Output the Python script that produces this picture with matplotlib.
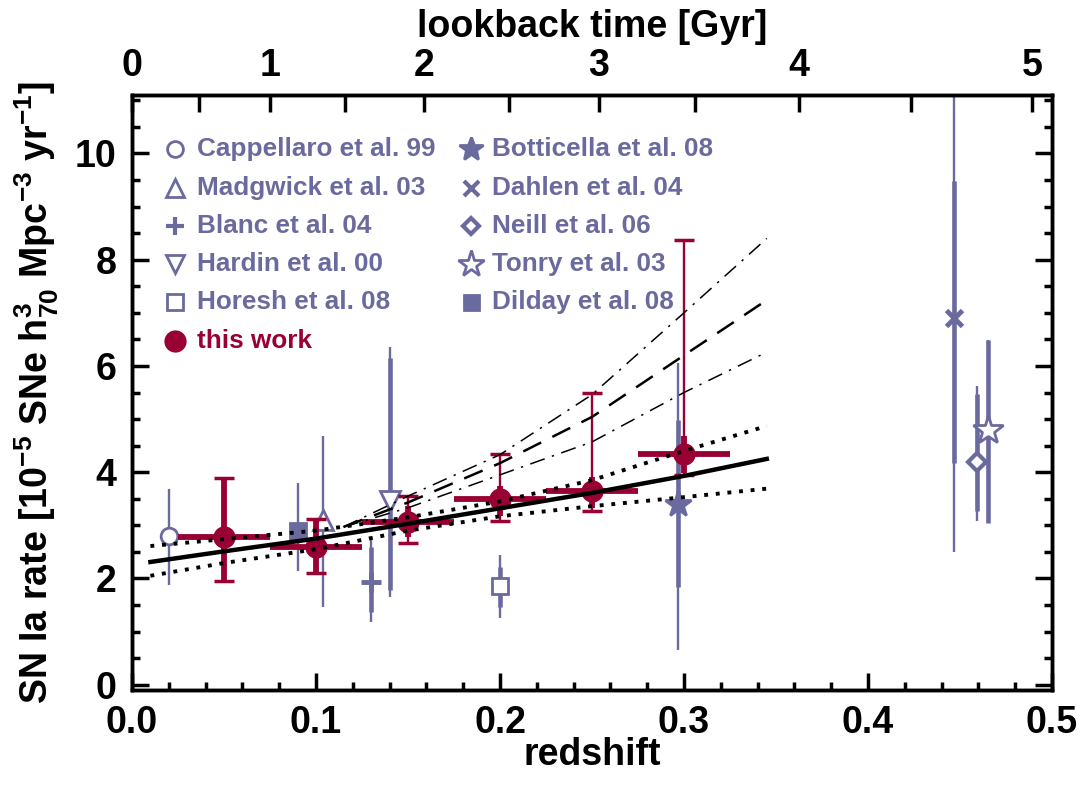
import numpy as np
import matplotlib
matplotlib.use("Agg")
import matplotlib.pyplot as plt

plt.rcParams['font.family'] = ['Liberation Sans', 'DejaVu Sans']
plt.rcParams['font.weight'] = 'bold'
plt.rcParams['axes.labelweight'] = 'bold'
plt.rcParams['mathtext.fontset'] = 'custom'
plt.rcParams['mathtext.rm'] = 'Liberation Sans:bold'
plt.rcParams['mathtext.bf'] = 'Liberation Sans:bold'
plt.rcParams['mathtext.default'] = 'bf'

RED = '#990033'
BLUE = '#6a6a9e'

# this work (SDSS-II)
z_this = [0.05, 0.10, 0.15, 0.20, 0.25, 0.30]
rate_this = [2.78, 2.59, 3.07, 3.49, 3.65, 4.34]
dz_this = [0.025, 0.025, 0.025, 0.025, 0.025, 0.025]
stat_lo_this = [0.83, 0.48, 0.29, 0.32, 0.32, 0.35]
stat_hi_this = [1.12, 0.52, 0.29, 0.25, 0.26, 0.34]
tot_lo_this = [0.83, 0.48, 0.40, 0.40, 0.38, 0.40]
tot_hi_this = [1.12, 0.52, 0.48, 0.86, 1.84, 4.03]

# other measurements
ref_names = ["Cappellaro et al. 99", "Madgwick et al. 03", "Blanc et al. 04",
             "Hardin et al. 00", "Horesh et al. 08", "Botticella et al. 08",
             "Dahlen et al. 04", "Neill et al. 06", "Tonry et al. 03",
             "Dilday et al. 08"]
ref_z = [0.02, 0.104, 0.13, 0.14, 0.20, 0.297, 0.447, 0.459, 0.465, 0.09]
ref_rate = [2.8, 3.1, 1.93, 3.45, 1.85, 3.4, 6.9, 4.2, 4.8, 2.9]
ref_stat_lo = [0.0, 0.0, 0.56, 1.67, 0.39, 1.56, 2.73, 0.93, 1.75, 0.0]
ref_stat_hi = [0.0, 0.0, 0.66, 2.70, 0.37, 1.58, 2.58, 1.27, 1.69, 0.0]
ref_tot_lo = [0.92, 1.64, 0.75, 1.80, 0.59, 2.75, 4.40, 1.11, 1.75, 0.76]
ref_tot_hi = [0.88, 1.58, 0.85, 2.91, 0.59, 2.65, 4.40, 1.42, 1.69, 0.90]
ref_marker = ['o', '^', '+', 'v', 's', '*', 'x', 'D', '*', 's']
ref_filled = [False, False, True, False, False, True, True, False, False, True]
ref_ms = [12, 14, 14, 14, 12, 20, 12, 9, 22, 12]

# power-law fit and its 1-sigma band
z_fit = [0.01, 0.05, 0.10, 0.15, 0.20, 0.25, 0.30, 0.345]
rate_fit = [2.31, 2.51, 2.75, 3.03, 3.32, 3.61, 3.93, 4.25]
rate_fit_hi = [2.61, 2.74, 2.90, 3.15, 3.45, 3.85, 4.40, 4.87]
rate_fit_lo = [2.05, 2.29, 2.55, 2.90, 3.17, 3.36, 3.53, 3.69]

# star-formation based model curves
z_model = [0.115, 0.15, 0.20, 0.25, 0.30, 0.345]
rate_model_hi = [2.97, 3.55, 4.33, 5.46, 7.00, 8.40]
rate_model_mid = [2.97, 3.43, 4.17, 5.04, 6.20, 7.24]
rate_model_lo = [2.97, 3.33, 3.95, 4.57, 5.50, 6.26]

lookback_ticks = np.arange(0, 5.01, 0.5)

# cosmology for the lookback-time axis
H0, Om = 69.5, 0.3
zg = np.linspace(0, 0.6, 2001)
integrand = 1.0 / ((1 + zg) * np.sqrt(Om * (1 + zg) ** 3 + 1 - Om))
tg = 977.8 / H0 * np.concatenate([[0], np.cumsum(0.5 * (integrand[1:] + integrand[:-1]) * np.diff(zg))])

fig = plt.figure(figsize=(10.83, 7.87), dpi=100)
ax = fig.add_axes([132 / 1083, 97 / 787, 920 / 1083, 595 / 787])

# other measurements
for i in range(len(ref_z)):
    ax.errorbar(ref_z[i], ref_rate[i], yerr=[[ref_tot_lo[i]], [ref_tot_hi[i]]],
                fmt='none', ecolor=BLUE, elinewidth=1.7, zorder=2)
    if ref_stat_hi[i] > 0:
        ax.errorbar(ref_z[i], ref_rate[i], yerr=[[ref_stat_lo[i]], [ref_stat_hi[i]]],
                    fmt='none', ecolor=BLUE, elinewidth=3.3, zorder=2)
    fc = BLUE if ref_filled[i] else 'white'
    mew = 3.5 if ref_marker[i] in ['+', 'x'] else 2
    if ref_marker[i] == 'D':
        mew = 3
    ax.plot(ref_z[i], ref_rate[i], marker=ref_marker[i], ms=ref_ms[i], mfc=fc,
            mec=BLUE, mew=mew, ls='none', zorder=3)

# this work
ax.errorbar(z_this, rate_this, yerr=[tot_lo_this, tot_hi_this], fmt='none',
            ecolor=RED, elinewidth=1.7, capsize=7, capthick=2.5, zorder=3)
ax.errorbar(z_this, rate_this, yerr=[stat_lo_this, stat_hi_this], xerr=dz_this,
            fmt='o', color=RED, ms=15, elinewidth=4.2, zorder=4)

# fit curves
ax.plot(z_fit, rate_fit, color='black', lw=3.2, zorder=6)
ax.plot(z_fit, rate_fit_hi, color='black', lw=2.8, ls=(0, (1, 2)), zorder=6)
ax.plot(z_fit, rate_fit_lo, color='black', lw=2.8, ls=(0, (1, 2)), zorder=6)
ax.plot(z_model, rate_model_mid, color='black', lw=1.8, ls=(0, (8, 5)), zorder=6)
ax.plot(z_model, rate_model_hi, color='black', lw=1.1, ls=(0, (10, 5, 1.5, 5)), zorder=6)
ax.plot(z_model, rate_model_lo, color='black', lw=1.1, ls=(0, (10, 5, 1.5, 5)), zorder=6)

ax.set_xlim(0, 0.5)
ax.set_ylim(-0.1, 11.1)
ax.set_xticks(np.arange(0, 0.51, 0.1))
ax.set_xticklabels(['0.0', '0.1', '0.2', '0.3', '0.4', '0.5'])
ax.set_xticks(np.arange(0, 0.51, 0.02), minor=True)
ax.set_yticks([0, 2, 4, 6, 8, 10])
ax.set_yticks(np.arange(0, 11.01, 0.5), minor=True)
ax.yaxis.set_ticks_position('both')
ax.xaxis.set_ticks_position('bottom')
ax.tick_params(which='major', direction='in', length=12, width=2.5, labelsize=27, pad=11)
ax.tick_params(which='minor', direction='in', length=6, width=2.5)
for s in ax.spines.values():
    s.set_linewidth(2.5)
ax.set_xlabel('redshift', fontsize=27, fontweight='bold', labelpad=-3)
ax.set_ylabel('SN Ia rate [10$^{-5}$ SNe h$^{3}_{70}$ Mpc$^{-3}$ yr$^{-1}$]',
              fontsize=27, fontweight='bold', labelpad=10)

# lookback time axis
ax2 = ax.twiny()
ax2.set_xlim(ax.get_xlim())
ax2.set_xticks(np.interp(lookback_ticks, tg, zg))
ax2.set_xticklabels([str(int(t)) if t == int(t) else '' for t in lookback_ticks])
ax2.tick_params(direction='in', length=12, width=2.5, labelsize=27, pad=8)
ax2.set_xlabel('lookback time [Gyr]', fontsize=27, fontweight='bold', labelpad=8)
for s in ax2.spines.values():
    s.set_linewidth(2.5)

# legend
legend_rows = [0.909, 0.844, 0.780, 0.716, 0.652, 0.587]
left_col = [0, 1, 2, 3, 4]
right_col = [5, 6, 7, 8, 9]
for row, i in enumerate(left_col):
    fc = BLUE if ref_filled[i] else 'white'
    ax.plot(0.047, legend_rows[row], transform=ax.transAxes, marker=ref_marker[i],
            ms=ref_ms[i] * 0.95, mfc=fc, mec=BLUE, mew=2 if ref_marker[i] != '+' else 3, clip_on=False)
    ax.text(0.071, legend_rows[row], ref_names[i], transform=ax.transAxes,
            color=BLUE, fontsize=18.8, va='center', ha='left')
for row, i in enumerate(right_col):
    fc = BLUE if ref_filled[i] else 'white'
    mew = 3 if ref_marker[i] in ['x', 'D'] else 2
    ax.plot(0.369, legend_rows[row], transform=ax.transAxes, marker=ref_marker[i],
            ms=ref_ms[i] * 0.9, mfc=fc, mec=BLUE, mew=mew, clip_on=False)
    ax.text(0.391, legend_rows[row], ref_names[i], transform=ax.transAxes,
            color=BLUE, fontsize=18.8, va='center', ha='left')
ax.plot(0.047, legend_rows[5], transform=ax.transAxes, marker='o', ms=15, color=RED)
ax.text(0.071, legend_rows[5], 'this work', transform=ax.transAxes,
        color=RED, fontsize=18.8, va='center', ha='left')

fig.savefig('out.png', dpi=100)
